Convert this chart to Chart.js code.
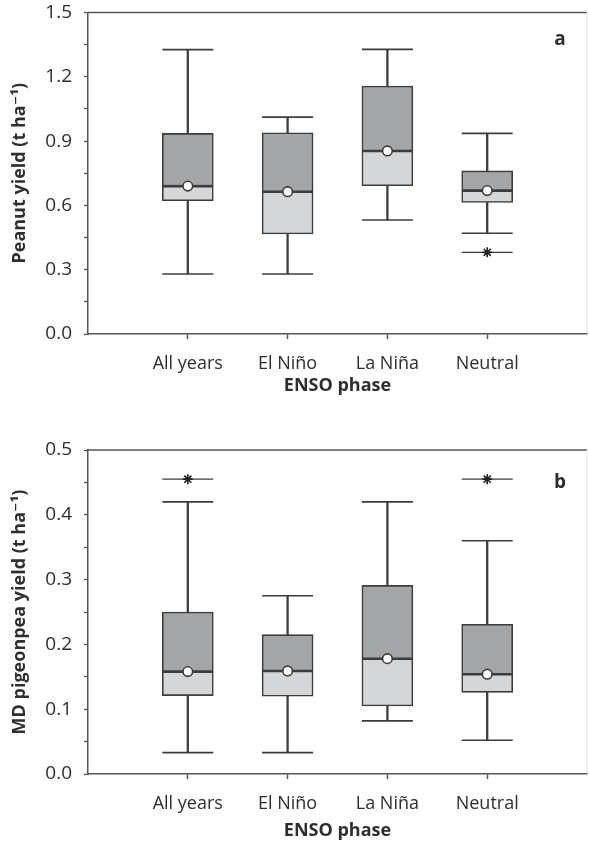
<!DOCTYPE html>
<html>
<head>
<meta charset="utf-8">
<script src="https://cdn.jsdelivr.net/npm/chart.js@4/dist/chart.umd.min.js"></script>
<style>
  html, body { margin: 0; padding: 0; background: #fff; overflow: hidden; width: 589px; height: 845px; }
  .wrap { position: relative; width: 589px; overflow: hidden; }
  #wa { height: 400px; }
  #wb { height: 445px; }
  canvas { display: block; }
</style>
</head>
<body>
<div class="wrap" id="wa"><canvas id="ca"></canvas></div>
<div class="wrap" id="wb"><canvas id="cb"></canvas></div>
<script>
const categories = ['All years', 'El Niño', 'La Niña', 'Neutral'];

// Panel a: peanut yield (t/ha)
const peanutLow      = [0.28, 0.28, 0.532, 0.47];
const peanutQ1       = [0.622, 0.467, 0.692, 0.614];
const peanutMedian   = [0.69, 0.664, 0.854, 0.669];
const peanutQ3       = [0.936, 0.939, 1.157, 0.761];
const peanutHigh     = [1.327, 1.012, 1.328, 0.936];
const peanutMean     = [0.69, 0.664, 0.854, 0.669];
const peanutOutliers = [null, null, null, 0.381];
const peanutTicks    = [0.0, 0.3, 0.6, 0.9, 1.2, 1.5];

// Panel b: MD pigeonpea yield (t/ha)
const pigeonLow      = [0.033, 0.033, 0.082, 0.052];
const pigeonQ1       = [0.121, 0.120, 0.105, 0.126];
const pigeonMedian   = [0.158, 0.159, 0.178, 0.154];
const pigeonQ3       = [0.250, 0.215, 0.291, 0.231];
const pigeonHigh     = [0.420, 0.275, 0.420, 0.360];
const pigeonMean     = [0.158, 0.159, 0.178, 0.154];
const pigeonOutliers = [0.455, null, null, 0.455];
const pigeonTicks    = [0.0, 0.1, 0.2, 0.3, 0.4, 0.5];

const FONT = "'Open Sans', 'DejaVu Sans', sans-serif";
const DARK = '#3c3c3c';
const AXIS = '#555555';
const TEXT = '#2e2e2e';
const FILL_HI = '#a4a5a7';
const FILL_LO = '#d5d6d8';
const BOX_W = 51;

function pts(arr) {
  return arr.map((v, i) => (v === null ? null : { x: i + 1, y: v })).filter(p => p !== null);
}
function ranges(a, b) {
  return a.map((v, i) => ({ x: i + 1, y: [v, b[i]] }));
}

const framePlugin = {
  id: 'frame',
  afterDraw(chart, args, opts) {
    const { ctx, chartArea: ca } = chart;
    ctx.save();
    ctx.strokeStyle = AXIS;
    ctx.lineWidth = 1.5;
    ctx.beginPath();
    ctx.moveTo(ca.left, ca.top);
    ctx.lineTo(ca.right, ca.top);
    ctx.stroke();
    ctx.strokeStyle = '#e4e4e4';
    ctx.lineWidth = 1;
    ctx.beginPath();
    ctx.moveTo(ca.right, ca.top);
    ctx.lineTo(ca.right, ca.bottom);
    ctx.stroke();
    ctx.fillStyle = TEXT;
    ctx.font = "bold 19px " + FONT;
    ctx.textAlign = 'center';
    ctx.textBaseline = 'middle';
    ctx.fillText(opts.letter, ca.right - 27, ca.top + opts.letterDy);
    ctx.restore();
  }
};

function makeChart(id, cfg) {
  const datasets = [
    { type: 'bar', data: ranges(cfg.low, cfg.high), backgroundColor: DARK, borderWidth: 0,
      barThickness: 1.6, grouped: false, order: 10 },
    { type: 'bar', data: ranges(cfg.q1, cfg.median), backgroundColor: FILL_LO, borderColor: DARK,
      borderWidth: 1.6, borderSkipped: false, barThickness: BOX_W, grouped: false, order: 6 },
    { type: 'bar', data: ranges(cfg.median, cfg.q3), backgroundColor: FILL_HI, borderColor: DARK,
      borderWidth: 1.6, borderSkipped: false, barThickness: BOX_W, grouped: false, order: 5 },
    { type: 'scatter', data: pts(cfg.low).concat(pts(cfg.high)), pointStyle: 'line', clip: false,
      pointRadius: BOX_W / 2, borderColor: DARK, borderWidth: 1.6, order: 4 },
    { type: 'scatter', data: pts(cfg.outliers), pointStyle: 'line', clip: false,
      pointRadius: BOX_W / 2, borderColor: DARK, borderWidth: 1.4, order: 3 },
    { type: 'scatter', data: pts(cfg.outliers), pointStyle: 'star', clip: false,
      pointRadius: 5, borderColor: '#222', borderWidth: 1.6, order: 2 },
    { type: 'scatter', data: pts(cfg.mean), pointStyle: 'circle', clip: false,
      pointRadius: 4.8, backgroundColor: '#ffffff', borderColor: DARK, borderWidth: 1.6, order: 1 }
  ];
  const minorStep = cfg.step / 2;
  return new Chart(document.getElementById(id), {
    type: 'bar',
    data: { datasets },
    options: {
      responsive: true,
      maintainAspectRatio: false,
      animation: false,
      events: [],
      layout: { autoPadding: false, padding: { top: cfg.padTop, right: 2, left: 0, bottom: 0 } },
      plugins: { legend: { display: false }, tooltip: { enabled: false },
                 frame: { letter: cfg.letter, letterDy: cfg.letterDy } },
      scales: {
        x: {
          type: 'linear', min: 0, max: 5, offset: false,
          afterFit: (a) => { a.height = cfg.xHeight; a.paddingLeft = 0; a.paddingRight = 0; },
          border: { display: true, color: AXIS, width: 1.5 },
          grid: { drawOnChartArea: false, drawTicks: true, tickLength: 5, offset: false,
                  tickColor: (c) => (c.tick && c.tick.value >= 1 && c.tick.value <= 4 ? AXIS : 'rgba(0,0,0,0)'),
                  tickWidth: 1.5 },
          ticks: { stepSize: 1, autoSkip: false, maxRotation: 0, padding: 14,
                   color: TEXT, font: { family: FONT, size: 18 },
                   callback: (v) => categories[v - 1] || '' },
          title: { display: true, text: 'ENSO phase', color: TEXT,
                   font: { family: FONT, size: 18, weight: 'bold' },
                   padding: { top: 0, bottom: cfg.titlePadB } }
        },
        y: {
          type: 'linear', min: 0, max: cfg.max,
          afterFit: (a) => { a.width = 88; a.paddingTop = 0; a.paddingBottom = 0; },
          border: { display: true, color: AXIS, width: 1.5 },
          grid: { drawOnChartArea: false, drawTicks: true, tickLength: 4, tickColor: AXIS, tickWidth: 1.3 },
          ticks: { stepSize: minorStep, autoSkip: false, padding: 12, color: TEXT,
                   font: { family: FONT, size: 19 },
                   callback: (v) => {
                     const k = Math.round(v / cfg.step * 1000) / 1000;
                     if (Math.abs(k - Math.round(k)) < 1e-6) {
                       const t = cfg.ticks.find(tv => Math.abs(tv - v) < 1e-6);
                       return t !== undefined ? t.toFixed(1) : '';
                     }
                     return '';
                   } },
          title: { display: true, text: cfg.yTitle, color: TEXT,
                   font: { family: FONT, size: 18, weight: 'bold' },
                   padding: { top: 9, bottom: 0 } }
        }
      }
    },
    plugins: [framePlugin]
  });
}

makeChart('ca', {
  low: peanutLow, q1: peanutQ1, median: peanutMedian, q3: peanutQ3, high: peanutHigh,
  mean: peanutMean, outliers: peanutOutliers, ticks: peanutTicks,
  max: 1.5, step: 0.3, padTop: 12.5, xHeight: 66, titlePadB: 3,
  yTitle: 'Peanut yield (t ha\u207B\u00B9)', letter: 'a', letterDy: 27
});
makeChart('cb', {
  low: pigeonLow, q1: pigeonQ1, median: pigeonMedian, q3: pigeonQ3, high: pigeonHigh,
  mean: pigeonMean, outliers: pigeonOutliers, ticks: pigeonTicks,
  max: 0.5, step: 0.1, padTop: 50, xHeight: 71, titlePadB: 3.5,
  yTitle: 'MD pigeonpea yield (t ha\u207B\u00B9)', letter: 'b', letterDy: 33
});
</script>
</body>
</html>
